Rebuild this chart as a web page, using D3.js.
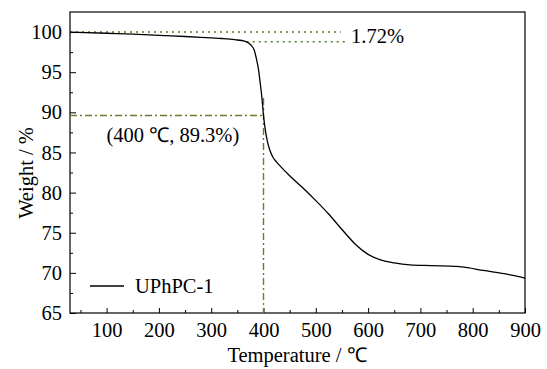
<!DOCTYPE html>
<html>
<head>
<meta charset="utf-8">
<script src="https://cdn.jsdelivr.net/npm/d3@7/dist/d3.min.js"></script>
<style>
  body { margin: 0; background: #fff; }
  svg text { font-family: "Liberation Serif", "Times New Roman", serif; fill: #000; }
  .axis path { display: none; }
  .axis line { stroke: #000; }
  .axis text { font-size: 20.5px; }
</style>
</head>
<body>
<script>
// TGA curve of UPhPC-1
const temperature = [30, 100, 150, 200, 250, 280, 320, 345, 365, 372, 377, 382, 386, 390, 394, 397, 400,
    403, 407, 412, 418, 425, 432, 450, 475, 500, 525, 550, 575, 600, 625, 650, 680, 720, 770, 790, 820, 860, 900];
const weight = [100, 99.85, 99.75, 99.6, 99.45, 99.35, 99.2, 99.05, 98.85, 98.6, 98.3, 97.8, 96.8, 95.5, 93.5, 91.8, 89.6,
    88, 86.5, 85.3, 84.4, 83.8, 83.3, 82.1, 80.6, 79.0, 77.3, 75.4, 73.6, 72.3, 71.6, 71.25, 71.0, 70.9, 70.8, 70.65, 70.3, 69.9, 69.35];

const xTicks = [100, 200, 300, 400, 500, 600, 700, 800, 900];
const yTicks = [65, 70, 75, 80, 85, 90, 95, 100];
const xMinor = [50, 150, 250, 350, 450, 550, 650, 750, 850];
const yMinor = [67.5, 72.5, 77.5, 82.5, 87.5, 92.5, 97.5];

// annotations
const lossLevels = [100, 98.8];      // 1.72% loss band as drawn
const lossStart = [30, 368];
const lossEnd = [548, 556];
const lossLabel = '1.72%';
const markPoint = [400, 89.6];
const markTop = 91.8;
const markLabel = '(400 \u2103, 89.3%)';
const seriesName = 'UPhPC-1';

const width = 547, height = 369;
const margin = { top: 12, right: 22, bottom: 56, left: 70 };
const pw = width - margin.left - margin.right;
const ph = height - margin.top - margin.bottom;
const fs = 20.5;

const svg = d3.select('body').append('svg')
    .attr('width', width)
    .attr('height', height);

const x = d3.scaleLinear().domain([30, 900]).range([0, pw]);
const y = d3.scaleLinear().domain([65, 102.5]).range([ph, 0]);

const g = svg.append('g').attr('transform', `translate(${margin.left},${margin.top})`);

// axes with inward ticks
g.append('g').attr('class', 'axis x-axis')
    .attr('transform', `translate(0,${ph})`)
    .call(d3.axisBottom(x).tickValues(xTicks).tickSize(-5).tickPadding(9))
    .attr('font-family', null)
    .selectAll('text').attr('dy', '0.71em');
g.append('g').attr('class', 'axis')
    .attr('transform', `translate(0,${ph})`)
    .call(d3.axisBottom(x).tickValues(xMinor).tickSize(-3).tickFormat(''));

g.append('g').attr('class', 'axis y-axis')
    .call(d3.axisLeft(y).tickValues(yTicks).tickSize(-6).tickPadding(8))
    .attr('font-family', null);
g.append('g').attr('class', 'axis')
    .call(d3.axisLeft(y).tickValues(yMinor).tickSize(-3).tickFormat(''));

// frame
g.append('rect')
    .attr('width', pw)
    .attr('height', ph)
    .attr('fill', 'none')
    .attr('stroke', '#000')
    .attr('stroke-width', 1.2);

// 1.72% dotted guides
lossLevels.forEach((lv, i) => {
    g.append('line')
        .attr('x1', x(lossStart[i])).attr('x2', x(lossEnd[i]))
        .attr('y1', y(lv)).attr('y2', y(lv))
        .attr('stroke', '#4f7f22')
        .attr('stroke-width', 1.4)
        .attr('stroke-dasharray', '2,4');
});
g.append('text')
    .attr('x', x(lossEnd[1]) + 6)
    .attr('y', y(lossLevels[1]) + 1)
    .attr('font-size', fs)
    .text(lossLabel);

// dash-dot guides at 400 C
const dashDot = '7,3,2,3';
g.append('line')
    .attr('x1', x(30)).attr('x2', x(markPoint[0]))
    .attr('y1', y(markPoint[1])).attr('y2', y(markPoint[1]))
    .attr('stroke', '#6a7a2e').attr('stroke-width', 1.4)
    .attr('stroke-dasharray', dashDot);
g.append('line')
    .attr('x1', x(markPoint[0])).attr('x2', x(markPoint[0]))
    .attr('y1', y(markTop)).attr('y2', y(65))
    .attr('stroke', '#6a7a2e').attr('stroke-width', 1.4)
    .attr('stroke-dasharray', dashDot);
g.append('text')
    .attr('x', 36.5)
    .attr('y', y(markPoint[1]) + 26)
    .attr('font-size', fs)
    .text(markLabel);

// curve
const line = d3.line().x((d) => x(d[0])).y((d) => y(d[1])).curve(d3.curveMonotoneX);
g.append('path')
    .datum(d3.zip(temperature, weight))
    .attr('fill', 'none')
    .attr('stroke', '#000')
    .attr('stroke-width', 1.3)
    .attr('d', line);

// legend
const lg = g.append('g').attr('transform', `translate(20, ${ph - 27})`);
lg.append('line').attr('x1', 0).attr('x2', 34).attr('y1', 0).attr('y2', 0)
    .attr('stroke', '#000').attr('stroke-width', 1.3);
lg.append('text').attr('x', 45).attr('y', 7).attr('font-size', fs).text(seriesName);

// axis titles
svg.append('text')
    .attr('x', 297)
    .attr('y', 362)
    .attr('text-anchor', 'middle')
    .attr('font-size', fs)
    .text('Temperature / \u2103');
svg.append('text')
    .attr('transform', 'translate(33,173) rotate(-90)')
    .attr('text-anchor', 'middle')
    .attr('font-size', fs)
    .text('Weight / %');
</script>
</body>
</html>
